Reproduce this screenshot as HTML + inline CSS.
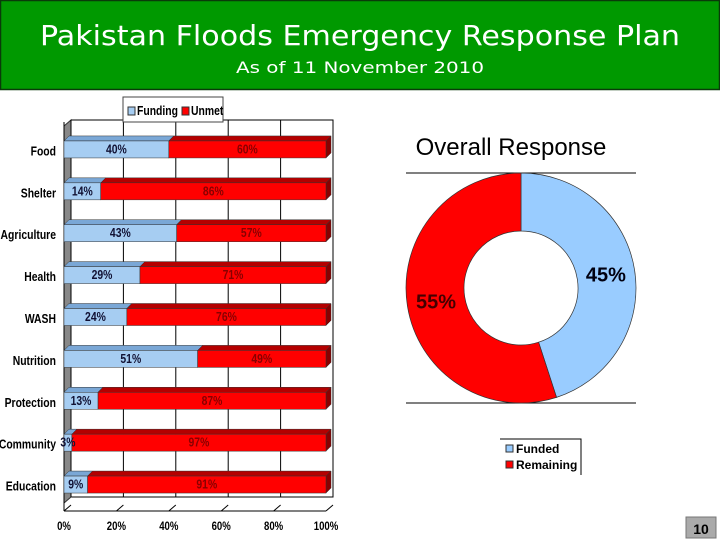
<!DOCTYPE html>
<html><head><meta charset="utf-8"><style>
html,body{margin:0;padding:0;background:#fff;}
body{width:720px;height:540px;overflow:hidden;position:relative;font-family:"Liberation Sans",sans-serif;}
</style></head><body>
<svg width="720" height="540" xmlns="http://www.w3.org/2000/svg" id="svg">
  <g>
    <rect x="0.5" y="0.5" width="719" height="89" fill="#009900" stroke="#0a3a0a" stroke-width="1.5"/>
    <text x="360" y="45" text-anchor="middle" font-family="DejaVu Sans, sans-serif" font-size="28" fill="#fff" textLength="640" lengthAdjust="spacingAndGlyphs">Pakistan Floods Emergency Response Plan</text>
    <text x="360" y="73" text-anchor="middle" font-family="DejaVu Sans, sans-serif" font-size="16" fill="#fff" textLength="248" lengthAdjust="spacingAndGlyphs">As of 11 November 2010</text>
  </g>
  <g id="bar-chart"></g>
  <g id="donut-chart"></g>
  <g>
    <rect x="686" y="517" width="30" height="21" fill="#aaa" stroke="#777"/>
    <text x="701" y="534" text-anchor="middle" font-size="14" font-weight="bold" fill="#000">10</text>
  </g>
</svg>
<script>
const categories = ["Food","Shelter","Agriculture","Health","WASH","Nutrition","Protection","Community","Education"];
const funding = [40,14,43,29,24,51,13,3,9];
const unmet = [60,86,57,71,76,49,87,97,91];
const xTicks = [0,20,40,60,80,100];
const pieLabels = ["Funded","Remaining"];
const pieValues = [45,55];

const NS="http://www.w3.org/2000/svg";
function mk(tag,attrs,parent,txt){const e=document.createElementNS(NS,tag);for(const k in attrs)e.setAttribute(k,attrs[k]);if(txt!==undefined)e.textContent=txt;parent.appendChild(e);return e;}
function ntext(parent,x,y,anchor,size,fill,txt){
  return mk('text',{x:0,y:0,transform:`translate(${x},${y}) scale(0.8,1)`,'text-anchor':anchor,'font-size':size,'font-weight':'bold',fill:fill},parent,txt);
}

const bc=document.getElementById('bar-chart');
const x0=64,x1=326,dx=7,dy=-6;
const xs=v=>x0+(x1-x0)*v/100;
const yTop=126,yBot=503;
const band=(yBot-yTop)/categories.length;
const yc=i=>yTop+band*(i+0.5);
mk('rect',{x:x0+dx,y:yTop+dy,width:x1-x0,height:yBot-yTop,fill:'#fff',stroke:'#000','stroke-width':1},bc);
mk('polygon',{points:`${x0},${yTop} ${x0+dx},${yTop+dy} ${x0+dx},${yBot+dy} ${x0},${yBot}`,fill:'#888',stroke:'#333'},bc);
xTicks.forEach(t=>{
  const x=xs(t);
  const g=mk('line',{x1:x+dx,y1:yTop+dy,x2:x+dx,y2:yBot+dy,stroke:'#000','stroke-width':1},bc);
  
  
  mk('line',{x1:x,y1:yBot+8,x2:x+dx,y2:yBot+dy+8,stroke:'#000'},bc);
  const tl=ntext(bc,x,530,'middle',12,'#000',t+'%');
  
  
});
mk('line',{x1:x0,y1:yBot+8,x2:x1,y2:yBot+8,stroke:'#000'},bc);
mk('line',{x1:x0,y1:yTop-4,x2:x0,y2:yBot+8,stroke:'#000'},bc);
function bar3d(xa,xb,y,h,front,top,side,name){
  const g=mk('g',{},bc);
  
  
  mk('polygon',{points:`${xa},${y} ${xa+5},${y-5} ${xb+5},${y-5} ${xb},${y}`,fill:top,stroke:'#333','stroke-width':0.5},g);
  mk('polygon',{points:`${xb},${y} ${xb+5},${y-5} ${xb+5},${y+h-5} ${xb},${y+h}`,fill:side,stroke:'#333','stroke-width':0.5},g);
  mk('rect',{x:xa,y:y,width:xb-xa,height:h,fill:front,stroke:'#333','stroke-width':0.5},g);
  return g;
}
categories.forEach((c,i)=>{
  const y=yc(i)-6,h=17;
  const xf=xs(funding[i]);
  bar3d(xs(0),xf,y,h,'#a6cdf2','#7aa7d6','#6f9ccc','bar-funding-'+c.toLowerCase());
  bar3d(xf,xs(funding[i]+unmet[i]),y,h,'#ff0000','#b40000','#8a0000','bar-unmet-'+c.toLowerCase());
  const cl=ntext(bc,56,y+h/2+6,'end',13,'#000',c);
  
  
  const fl=ntext(bc,(xs(0)+xf)/2,y+h/2+4,'middle',13,'#113',funding[i]+'%');
  
  
  const ul=ntext(bc,(xf+xs(funding[i]+unmet[i]))/2,y+h/2+4,'middle',13,'#800',unmet[i]+'%');
  
  
});
const bl=mk('g',{},bc);


mk('rect',{x:123,y:97,width:100,height:25,fill:'#fff',stroke:'#444'},bl);
mk('rect',{x:128,y:107,width:7,height:8,fill:'#a6cdf2',stroke:'#333'},bl);
ntext(bl,137,115,'start',13,'#000','Funding');
mk('rect',{x:182,y:107,width:7,height:8,fill:'#f00',stroke:'#333'},bl);
ntext(bl,191,115,'start',13,'#000','Unmet');

const dc=document.getElementById('donut-chart');
const cx=521,cy=288,R=115,r=57;
const t=mk('text',{x:511,y:155,'text-anchor':'middle','font-size':24},dc,'Overall Response');


mk('line',{x1:406,y1:173,x2:636,y2:173,stroke:'#000'},dc);
mk('line',{x1:406,y1:403,x2:636,y2:403,stroke:'#000'},dc);
const total=pieValues.reduce((a,b)=>a+b,0);
const colors=['#99ccff','#ff0000'];
let acc=0;
pieValues.forEach((v,i)=>{
  const a0=acc/total*2*Math.PI, a1=(acc+v)/total*2*Math.PI; acc+=v;
  const p=(rad,a)=>[cx+rad*Math.sin(a),cy-rad*Math.cos(a)];
  const [ax,ay]=p(R,a0),[bx,by]=p(R,a1),[cx1,cy1]=p(r,a1),[dx1,dy1]=p(r,a0);
  const lg=(a1-a0)>Math.PI?1:0;
  const s=mk('path',{d:`M${ax},${ay} A${R},${R} 0 ${lg} 1 ${bx},${by} L${cx1},${cy1} A${r},${r} 0 ${lg} 0 ${dx1},${dy1} Z`,fill:colors[i],stroke:'#333','stroke-width':0.7},dc);
  
  
  const am=(a0+a1)/2;
  const [lx,ly]=p(86,am);
  const l=mk('text',{x:lx,y:ly+7,'text-anchor':'middle','font-size':20,'font-weight':'bold',fill:i?'#400':'#001'},dc,v+'%');
  
  
});
const dl=mk('g',{},dc);


mk('polyline',{points:'500,439 581,439 581,475',fill:'none',stroke:'#000'},dl);
pieLabels.forEach((n,i)=>{
  mk('rect',{x:506,y:445+i*16,width:7,height:7,fill:colors[i],stroke:'#333'},dl);
  mk('text',{x:516,y:453+i*16,'font-size':12,'font-weight':'bold'},dl,n);
});
</script>
</body></html>
